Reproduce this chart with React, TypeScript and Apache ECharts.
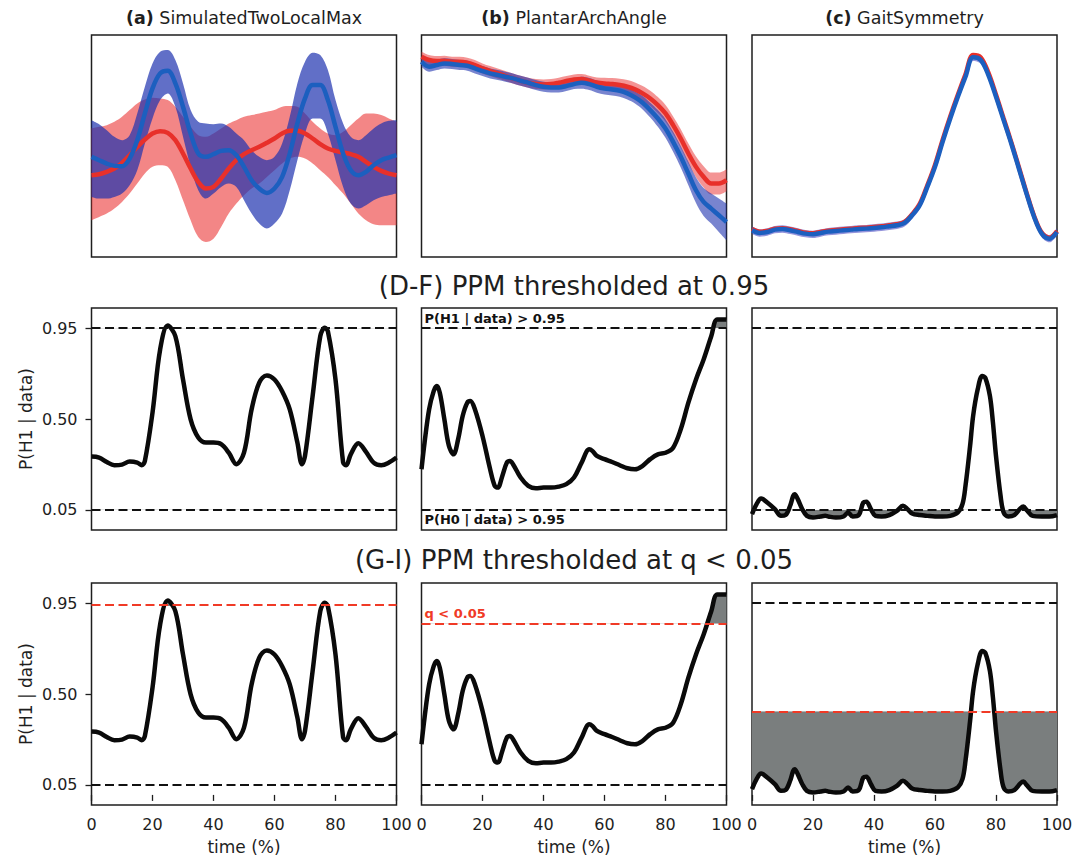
import React, { useEffect, useRef } from 'react';
import * as echarts from 'echarts';

const FONT = '"DejaVu Sans", "Liberation Sans", sans-serif';
const TXT = '#1e1e1e';
const FRAME = '#1e1e1e';
const RED_LINE = '#e8302a';
const BLUE_LINE = '#1c5fbf';
const RED_BAND = 'rgba(235,60,60,0.62)';
const BLUE_BAND = 'rgba(30,50,175,0.7)';
const THR_RED = '#f03a26';
const GREY = '#7a7e7e';

// ---------- data ----------
const T41 = [0, 2.5, 5, 7.5, 10, 12.5, 15, 17.5, 20, 22.5, 25, 27.5, 30, 32.5, 35, 37.5, 40, 42.5, 45, 47.5, 50,
  52.5, 55, 57.5, 60, 62.5, 65, 67.5, 70, 72.5, 75, 77.5, 80, 82.5, 85, 87.5, 90, 92.5, 95, 97.5, 100];

// (a) SimulatedTwoLocalMax
const A_BLUE_MEAN = [30, 29, 28, 27.3, 27.2, 29.5, 35, 43, 50.5, 55, 55.8, 52, 45, 37, 31, 30, 30.8, 31.8, 32, 30.5, 27,
  23, 20.5, 19.2, 20.5, 24, 31, 40, 47.5, 51.5, 51.5, 47, 39, 31, 26, 24.5, 25.5, 27.5, 29, 29.8, 30.5];
const A_BLUE_UP = [41, 39.8, 38, 36, 35, 36.5, 43, 51, 58, 61.5, 62, 59, 52, 44, 40.5, 40, 39.8, 40, 39, 37, 35,
  32, 30, 29, 30, 34, 42, 52, 58.5, 61.2, 60.5, 56, 47, 40, 36, 35, 36.5, 38.5, 40, 40.8, 41];
const A_BLUE_LO = [18, 17.5, 17.5, 18, 19, 21.5, 26, 34, 41.5, 47, 49, 45, 36, 27, 20, 17.5, 19, 21, 22, 21, 17,
  13, 10, 8.5, 10, 13, 20, 29, 37, 41.5, 41.5, 37, 29, 21, 16, 14.5, 15.5, 17, 18, 18.5, 19];
const A_RED_MEAN = [24.5, 24.8, 25.5, 26.5, 28.2, 30.5, 33, 35.2, 37, 37.7, 37.2, 35, 31, 26.5, 22.5, 20.5, 21, 23.5, 26.5, 29, 30.8,
  32, 33, 34.2, 35.5, 37, 37.8, 37.8, 37, 35.5, 33.8, 32.5, 31.8, 31.3, 30.8, 30, 28.5, 27, 25.8, 25, 24.5];
const A_RED_UP = [38.5, 39, 39.5, 40.5, 42, 44, 46, 47.2, 47.7, 47.5, 47, 45, 42, 39, 36.5, 36, 37, 38.5, 40, 41, 42,
  42.5, 43, 43.5, 44, 45, 45.2, 45, 43, 40.5, 38.5, 37, 36.5, 37.5, 39.5, 41.5, 43, 43, 42.5, 41.5, 40.5];
const A_RED_LO = [11, 12, 13, 14.5, 16.5, 19, 22, 25, 27, 27.5, 27, 23, 17, 11, 6, 4.5, 5.5, 9, 13, 16, 18.5,
  20.5, 22, 24, 26, 28, 29.5, 30, 29.5, 28, 26, 24, 21.5, 19, 16, 13, 11, 9.8, 9.5, 9.5, 9.5];

// (b) PlantarArchAngle
const B_RED_MEAN = [60, 59, 58.7, 58.8, 58.5, 58.5, 58.2, 57.5, 56.5, 55.7, 55, 54.2, 53.5, 52.8, 52.2, 51.8, 51.7, 51.8, 52.2, 52.7, 53.2,
  53.3, 52.8, 52.3, 52, 51.8, 51.5, 51, 50.2, 49, 47.5, 45.5, 43, 39.5, 35.5, 31, 27, 24, 22, 22, 23];
const B_RED_SD = [1.5, 1.5, 1.5, 1.5, 1.5, 1.5, 1.5, 1.5, 1.5, 1.5, 1.5, 1.5, 1.5, 1.5, 1.5, 1.5, 1.5, 1.5, 1.5, 1.5, 1.5,
  1.5, 1.5, 1.5, 1.7, 1.8, 1.9, 2, 2.1, 2.2, 2.3, 2.4, 2.5, 2.6, 2.8, 3, 3.1, 3.2, 3.3, 3.3, 3.3];
const B_BLUE_MEAN = [58.5, 57, 57.5, 58, 57.8, 57.5, 57.3, 56.5, 55.7, 55, 54.5, 54, 53.5, 52.8, 52.2, 51.5, 51, 50.8, 50.8, 51.2, 51.8,
  52.2, 51.8, 51, 50.5, 50.2, 49.8, 49, 47.8, 46.2, 44, 41.5, 38.5, 34.5, 30, 25, 20, 16.5, 14.5, 12.5, 10.5];
const B_BLUE_SD = [1.5, 1.5, 1.5, 1.5, 1.5, 1.5, 1.5, 1.5, 1.5, 1.5, 1.5, 1.5, 1.5, 1.5, 1.5, 1.5, 1.5, 1.5, 1.5, 1.5, 1.5,
  1.8, 1.8, 1.8, 1.8, 1.8, 1.8, 1.8, 1.8, 2, 2.2, 2.5, 2.8, 3, 3.2, 3.5, 3.8, 4.2, 4.5, 5, 5.5];

// (c) GaitSymmetry
const C_BLUE_MEAN = [8, 7.2, 7.5, 8.2, 8.4, 8, 7.5, 7, 6.8, 7.2, 7.6, 7.8, 8, 8.2, 8.4, 8.5, 8.7, 8.9, 9.2, 9.5, 10.2,
  12.5, 15.5, 21, 27, 34.5, 41.5, 48, 54, 59.8, 59, 54.5, 48, 41, 34, 26.5, 19, 12, 7, 5.5, 7.5];
const C_RED_MEAN = [8.4, 7.6, 7.8, 8.5, 8.6, 8.3, 7.8, 7.3, 7.1, 7.5, 7.9, 8.1, 8.3, 8.5, 8.7, 8.8, 9, 9.2, 9.5, 9.8, 10.5,
  12.8, 15.9, 21.5, 27.6, 35.1, 42.1, 48.6, 54.7, 60.5, 59.8, 55.2, 48.6, 41.5, 34.4, 26.9, 19.3, 12.3, 7.3, 5.8, 7.8];
const C_SD = 1.1;

// PPM curves P(H1 | data)
const D_X = [0, 2.5, 5, 7.5, 10, 12.5, 15, 16.5, 17.5, 20, 22.5, 25, 27.5, 30, 32.5, 35, 37.5, 40, 42.5, 45,
  47.5, 50, 52.5, 55, 57.5, 60, 62.5, 65, 67.5, 69, 70, 72.5, 75, 76.5, 77.5, 80, 82.5, 83.5, 85, 87.5,
  90, 92.5, 95, 97.5, 100];
const D_Y = [0.314, 0.309, 0.287, 0.271, 0.274, 0.289, 0.284, 0.271, 0.292, 0.531, 0.844, 0.963, 0.910, 0.696, 0.498, 0.408, 0.383, 0.383, 0.375, 0.333,
  0.276, 0.333, 0.548, 0.680, 0.716, 0.696, 0.638, 0.548, 0.383, 0.276, 0.317, 0.614, 0.910, 0.952, 0.935, 0.696, 0.284, 0.271, 0.325, 0.380,
  0.337, 0.284, 0.271, 0.284, 0.309];

const E_X = [0, 1, 2.5, 4, 5, 6, 7.5, 9, 10.5, 12, 13.5, 15, 16, 17.5, 20, 22.5, 24, 25, 26.5, 28,
  29, 30, 32.5, 35, 37.5, 40, 42.5, 45, 47.5, 50, 52.5, 55, 56, 57.5, 60, 62.5, 65, 67.5, 70, 72.5,
  75, 77.5, 80, 82.5, 85, 87.5, 90, 92.5, 95, 97, 100];
const E_Y = [0.251, 0.383, 0.548, 0.638, 0.663, 0.630, 0.498, 0.366, 0.325, 0.399, 0.515, 0.581, 0.589, 0.548, 0.416, 0.251, 0.169, 0.160, 0.218, 0.284,
  0.292, 0.276, 0.210, 0.169, 0.157, 0.160, 0.160, 0.165, 0.177, 0.210, 0.284, 0.350, 0.342, 0.317, 0.301, 0.287, 0.271, 0.256, 0.251, 0.268,
  0.301, 0.325, 0.333, 0.358, 0.449, 0.581, 0.696, 0.795, 0.910, 0.993, 0.993];

const F_X = [0, 1.5, 3, 5, 7.5, 9.5, 11, 12.5, 13.5, 14, 15, 16.5, 18, 20, 22.5, 24, 25, 27.5, 30, 31.5,
  33, 35, 36.5, 37.5, 39, 40.5, 42.5, 45, 47.5, 49.5, 51, 52.5, 55, 57.5, 60, 62.5, 65, 67.5, 69, 70,
  71.5, 72.5, 74, 75.5, 76.5, 78, 79, 80, 81.5, 82.5, 84, 86, 88, 89, 90, 92, 95, 97.5, 100];
const F_Y = [0.029, 0.078, 0.106, 0.086, 0.053, 0.020, 0.024, 0.070, 0.119, 0.127, 0.103, 0.053, 0.020, 0.012, 0.017, 0.020, 0.017, 0.012, 0.017, 0.037,
  0.017, 0.024, 0.086, 0.090, 0.053, 0.020, 0.017, 0.024, 0.045, 0.070, 0.053, 0.032, 0.024, 0.020, 0.017, 0.017, 0.020, 0.037, 0.078, 0.169,
  0.366, 0.515, 0.647, 0.713, 0.704, 0.614, 0.482, 0.317, 0.119, 0.037, 0.017, 0.024, 0.057, 0.066, 0.050, 0.020, 0.017, 0.017, 0.024];

const PPM_X = [D_X, E_X, F_X];
const PPM_Y = [D_Y, E_Y, F_Y];

const THR_H1 = 0.95;
const THR_H0 = 0.05;
const Q_THR = [0.936, 0.848, 0.414];
const Y_TICKS = [0.05, 0.5, 0.95];

const PANEL_TAGS = ['(a)', '(b)', '(c)'];
const PANEL_NAMES = ['SimulatedTwoLocalMax', 'PlantarArchAngle', 'GaitSymmetry'];
const ROW_TITLES = ['(D-F) PPM thresholded at 0.95', '(G-I) PPM thresholded at q < 0.05'];

// ---------- layout ----------
const COL_LEFT = [91.5, 421.5, 752];
const PANEL_W = 305;
const ROW_TOP = [35, 308, 583];
const PANEL_H = 222;
const PPM_MIN = -0.05;
const PPM_MAX = 1.05;
const SMOOTH = 0.35;
const CURVE_W = 4.5;

const pairs = (xs: number[], ys: number[]) => xs.map((x, i) => [x, ys[i]]);

function buildOption() {
  const grid: any[] = [];
  const xAxis: any[] = [];
  const yAxis: any[] = [];
  const series: any[] = [];
  const title: any[] = [];

  const addGrid = (g: any, xa: any, ya: any) => {
    grid.push(g);
    const gi = grid.length - 1;
    xAxis.push({ ...xa, gridIndex: gi });
    yAxis.push({ ...ya, gridIndex: gi });
    return gi;
  };

  // value-x line (PPM rows)
  const line = (gi: number, xs: number[], ys: number[], color: string, width: number, z: number) => ({
    type: 'line', xAxisIndex: gi, yAxisIndex: gi, data: pairs(xs, ys), smooth: SMOOTH,
    symbol: 'none', silent: true, lineStyle: { color, width }, z,
  });

  // category-x line (row 1)
  const catLine = (gi: number, ys: number[], color: string, width: number, z: number) => ({
    type: 'line', xAxisIndex: gi, yAxisIndex: gi, data: ys, smooth: SMOOTH,
    symbol: 'none', silent: true, lineStyle: { color, width }, z,
  });

  const band = (gi: number, lo: number[], up: number[], color: string, stack: string, z: number) => [
    {
      type: 'line', xAxisIndex: gi, yAxisIndex: gi, data: lo, stack, smooth: SMOOTH,
      symbol: 'none', silent: true, lineStyle: { opacity: 0, width: 0 }, z,
    },
    {
      type: 'line', xAxisIndex: gi, yAxisIndex: gi, data: up.map((u, i) => u - lo[i]), stack, smooth: SMOOTH,
      symbol: 'none', silent: true, lineStyle: { opacity: 0, width: 0 }, areaStyle: { color, opacity: 1 }, z,
    },
  ];

  // ---------- row 1 ----------
  for (let c = 0; c < 3; c++) {
    const gi = addGrid(
      { left: COL_LEFT[c], top: ROW_TOP[0], width: PANEL_W, height: PANEL_H, show: true, borderColor: FRAME, borderWidth: 1.5 },
      { type: 'category', data: T41.map(String), boundaryGap: false, show: false },
      { type: 'value', min: 0, max: 66.5, show: false },
    );
    title.push({
      text: `{b|${PANEL_TAGS[c]}} ${PANEL_NAMES[c]}`,
      left: COL_LEFT[c] + PANEL_W / 2, top: 9, textAlign: 'center', padding: 0,
      textStyle: {
        fontFamily: FONT, fontSize: 17.5, fontWeight: 'normal', color: TXT,
        rich: { b: { fontFamily: FONT, fontSize: 17.5, fontWeight: 'bold', color: TXT } },
      },
    });
    if (c === 0) {
      series.push(...band(gi, A_RED_LO, A_RED_UP, RED_BAND, 'a_red', 1));
      series.push(...band(gi, A_BLUE_LO, A_BLUE_UP, BLUE_BAND, 'a_blue', 1));
      series.push(catLine(gi, A_RED_MEAN, RED_LINE, 4.5, 2));
      series.push(catLine(gi, A_BLUE_MEAN, BLUE_LINE, 4.5, 3));
    } else if (c === 1) {
      series.push(...band(gi, B_RED_MEAN.map((m, i) => m - B_RED_SD[i]), B_RED_MEAN.map((m, i) => m + B_RED_SD[i]), 'rgba(235,60,60,0.55)', 'b_red', 1));
      series.push(...band(gi, B_BLUE_MEAN.map((m, i) => m - B_BLUE_SD[i]), B_BLUE_MEAN.map((m, i) => m + B_BLUE_SD[i]), 'rgba(30,50,175,0.6)', 'b_blue', 1));
      series.push(catLine(gi, B_RED_MEAN, RED_LINE, 4.5, 2));
      series.push(catLine(gi, B_BLUE_MEAN, BLUE_LINE, 4.5, 3));
    } else {
      series.push(catLine(gi, C_RED_MEAN, RED_LINE, 4.5, 2));
      series.push(...band(gi, C_BLUE_MEAN.map((m) => m - C_SD), C_BLUE_MEAN.map((m) => m + C_SD), 'rgba(60,60,190,0.55)', 'c_blue', 2));
      series.push(catLine(gi, C_BLUE_MEAN, BLUE_LINE, 4.5, 3));
    }
  }

  // ---------- rows 2 and 3 ----------
  ROW_TITLES.forEach((t, i) => {
    title.push({
      text: t, left: 574, top: i === 0 ? 273 : 547, textAlign: 'center', padding: 0,
      textStyle: { fontFamily: FONT, fontSize: 26, fontWeight: 'normal', color: TXT },
    });
  });

  for (let r = 1; r < 3; r++) {
    for (let c = 0; c < 3; c++) {
      const xs = PPM_X[c];
      const ys = PPM_Y[c];
      const gi = addGrid(
        { left: COL_LEFT[c], top: ROW_TOP[r], width: PANEL_W, height: PANEL_H, show: true, borderColor: FRAME, borderWidth: 1.5 },
        {
          type: 'value', min: 0, max: 100, interval: 20,
          axisLine: { show: false }, splitLine: { show: false },
          axisTick: { show: r === 2, length: 6, lineStyle: { color: FRAME, width: 1.3 } },
          axisLabel: { show: r === 2, fontFamily: FONT, fontSize: 16, color: TXT, margin: 11, showMinLabel: true, showMaxLabel: true },
          name: r === 2 ? 'time (%)' : '', nameLocation: 'middle', nameGap: 33,
          nameTextStyle: { fontFamily: FONT, fontSize: 17, color: TXT },
        },
        {
          type: 'value', min: PPM_MIN, max: PPM_MAX,
          axisLine: { show: false }, splitLine: { show: false },
          axisTick: { show: c === 0, length: 6, customValues: Y_TICKS, lineStyle: { color: FRAME, width: 1.3 } },
          axisLabel: {
            show: c === 0, customValues: Y_TICKS, formatter: (v: number) => v.toFixed(2),
            fontFamily: FONT, fontSize: 16, color: TXT, margin: 14,
          },
          name: c === 0 ? 'P(H1 | data)' : '', nameLocation: 'middle', nameGap: 57,
          nameTextStyle: { fontFamily: FONT, fontSize: 17, color: TXT },
        },
      );

      type Lin = { v: number; color: string; label?: string; pos?: string };
      let lines: Lin[] = [];
      let fills: { thr: number; dir: 'above' | 'below' }[] = [];
      if (r === 1) {
        lines = [
          { v: THR_H1, color: '#111', label: c === 1 ? 'P(H1 | data) > 0.95' : undefined, pos: 'insideStartTop' },
          { v: THR_H0, color: '#111', label: c === 1 ? 'P(H0 | data) > 0.95' : undefined, pos: 'insideStartBottom' },
        ];
        fills = [{ thr: THR_H1, dir: 'above' }, { thr: THR_H0, dir: 'below' }];
      } else if (c === 0) {
        lines = [{ v: Q_THR[0], color: THR_RED }, { v: THR_H0, color: '#111' }];
        fills = [{ thr: Q_THR[0], dir: 'above' }];
      } else if (c === 1) {
        lines = [{ v: Q_THR[1], color: THR_RED, label: 'q < 0.05', pos: 'insideStartTop' }, { v: THR_H0, color: '#111' }];
        fills = [{ thr: Q_THR[1], dir: 'above' }];
      } else {
        lines = [{ v: THR_H1, color: '#111' }, { v: Q_THR[2], color: THR_RED }];
        fills = [{ thr: Q_THR[2], dir: 'below' }];
      }

      fills.forEach((f) => {
        const top = ROW_TOP[r];
        const thrPix = top + ((PPM_MAX - f.thr) / (PPM_MAX - PPM_MIN)) * PANEL_H;
        const above = f.dir === 'above';
        const fg = addGrid(
          {
            left: COL_LEFT[c], width: PANEL_W,
            top: above ? top : thrPix,
            height: above ? thrPix - top : top + PANEL_H - thrPix,
            show: false,
          },
          { type: 'value', min: 0, max: 100, show: false },
          { type: 'value', min: above ? f.thr : PPM_MIN, max: above ? PPM_MAX : f.thr, show: false },
        );
        series.push({
          type: 'line', xAxisIndex: fg, yAxisIndex: fg, data: pairs(xs, ys), smooth: SMOOTH,
          symbol: 'none', silent: true, clip: true, z: 1,
          lineStyle: { opacity: 0, width: 0 },
          areaStyle: { color: GREY, opacity: 1, origin: above ? 'start' : 'end' },
        });
      });

      series.push({
        type: 'line', xAxisIndex: gi, yAxisIndex: gi, data: pairs(xs, ys), smooth: SMOOTH,
        symbol: 'none', silent: true, z: 2, lineStyle: { opacity: 0, width: 0 },
        markLine: {
          symbol: 'none', silent: true, animation: false,
          label: { show: false },
          data: lines.map((l) => ({
            yAxis: l.v,
            lineStyle: { color: l.color, type: [9, 4.5], width: 2 },
            label: l.label
              ? {
                show: true, position: l.pos, formatter: l.label, distance: 3,
                color: l.color === THR_RED ? THR_RED : '#111', fontWeight: 'bold', fontSize: 13, fontFamily: FONT,
              }
              : { show: false },
          })),
        },
      });

      series.push(line(gi, xs, ys, '#0a0a0a', CURVE_W, 3));
    }
  }

  return {
    animation: false,
    backgroundColor: '#ffffff',
    title,
    grid,
    xAxis,
    yAxis,
    series,
  };
}

export default function App() {
  const ref = useRef<HTMLDivElement>(null);
  useEffect(() => {
    if (!ref.current) return;
    const chart = echarts.init(ref.current, null, { renderer: 'svg' });
    chart.setOption(buildOption() as any);
    return () => chart.dispose();
  }, []);
  return (
    <div
      ref={ref}
      style={{ position: 'fixed', left: 0, top: 0, width: 1076, height: 862, background: '#fff' }}
    />
  );
}
